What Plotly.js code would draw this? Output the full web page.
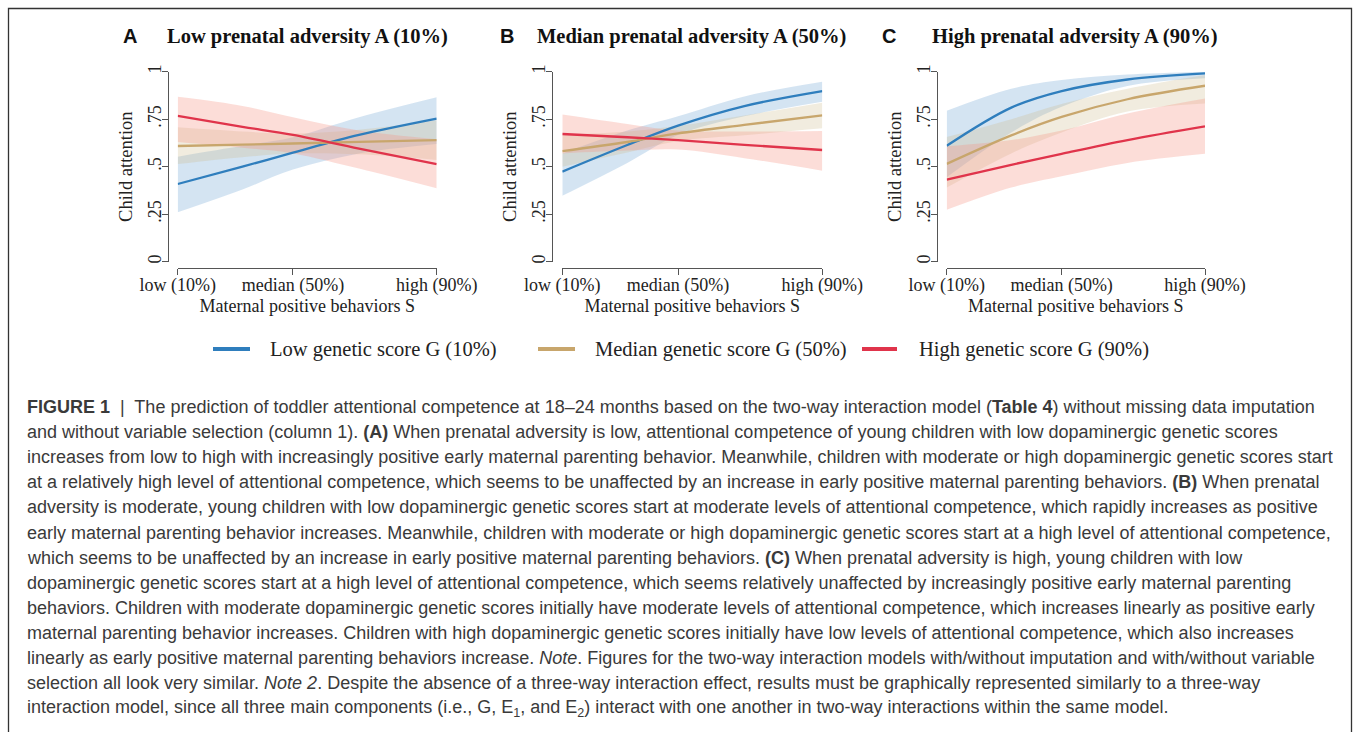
<!DOCTYPE html>
<html>
<head>
<meta charset="utf-8">
<script src="https://cdn.plot.ly/plotly-3.0.1.min.js"></script>
<style>html,body{margin:0;padding:0;background:#fff;}#chart{width:1354px;height:732px;}</style>
</head>
<body>
<div id="chart"></div>
<script>
// Sample positions along maternal positive behaviors S (0 = low 10%, 1 = high 90%)
const sPoints = [0, 0.25, 0.445, 0.7, 1];
const xTickVals = [0, 0.445, 1];
const xTickText = ['low (10%)', 'median (50%)', 'high (90%)'];
const yTickVals = [0, 0.25, 0.5, 0.75, 1];
const yTickText = ['0', '.25', '.5', '.75', '1'];

const seriesNames = ['Low genetic score G (10%)', 'Median genetic score G (50%)', 'High genetic score G (90%)'];
const panelLetters = ['A', 'B', 'C'];
const panelTitles = ['Low prenatal adversity A (10%)', 'Median prenatal adversity A (50%)', 'High prenatal adversity A (90%)'];

// Panel A: low prenatal adversity
const lowGA = [0.409, 0.500, 0.574, 0.667, 0.753];
const lowGA_lo = [0.260, 0.380, 0.485, 0.570, 0.620];
const lowGA_hi = [0.553, 0.610, 0.655, 0.760, 0.865];
const medGA = [0.609, 0.616, 0.622, 0.631, 0.640];
const medGA_lo = [0.514, 0.550, 0.570, 0.565, 0.535];
const medGA_hi = [0.707, 0.685, 0.675, 0.695, 0.745];
const highGA = [0.767, 0.710, 0.667, 0.595, 0.514];
const highGA_lo = [0.630, 0.600, 0.570, 0.490, 0.386];
const highGA_hi = [0.868, 0.820, 0.760, 0.690, 0.645];

// Panel B: median prenatal adversity
const lowGB = [0.474, 0.614, 0.716, 0.819, 0.898];
const lowGB_lo = [0.347, 0.520, 0.667, 0.765, 0.842];
const lowGB_hi = [0.570, 0.690, 0.765, 0.870, 0.947];
const medGB = [0.582, 0.630, 0.675, 0.720, 0.770];
const medGB_lo = [0.500, 0.575, 0.635, 0.665, 0.702];
const medGB_hi = [0.667, 0.685, 0.715, 0.770, 0.837];
const highGB = [0.672, 0.655, 0.640, 0.615, 0.588];
const highGB_lo = [0.570, 0.585, 0.590, 0.545, 0.479];
const highGB_hi = [0.775, 0.725, 0.690, 0.685, 0.688];

// Panel C: high prenatal adversity
const lowGC = [0.610, 0.811, 0.898, 0.959, 0.991];
const lowGC_lo = [0.444, 0.680, 0.815, 0.925, 0.965];
const lowGC_hi = [0.794, 0.910, 0.956, 0.985, 1.000];
const medGC = [0.515, 0.665, 0.762, 0.855, 0.926];
const medGC_lo = [0.390, 0.570, 0.680, 0.790, 0.832];
const medGC_hi = [0.656, 0.750, 0.830, 0.910, 0.982];
const highGC = [0.432, 0.510, 0.568, 0.640, 0.712];
const highGC_lo = [0.273, 0.390, 0.450, 0.520, 0.568];
const highGC_hi = [0.607, 0.640, 0.690, 0.780, 0.859];

const captionLines = [
  '<b>FIGURE 1</b>  |  The prediction of toddler attentional competence at 18–24 months based on the two-way interaction model (<b>Table 4</b>) without missing data imputation',
  'and without variable selection (column 1). <b>(A)</b> When prenatal adversity is low, attentional competence of young children with low dopaminergic genetic scores',
  'increases from low to high with increasingly positive early maternal parenting behavior. Meanwhile, children with moderate or high dopaminergic genetic scores start',
  'at a relatively high level of attentional competence, which seems to be unaffected by an increase in early positive maternal parenting behaviors. <b>(B)</b> When prenatal',
  'adversity is moderate, young children with low dopaminergic genetic scores start at moderate levels of attentional competence, which rapidly increases as positive',
  'early maternal parenting behavior increases. Meanwhile, children with moderate or high dopaminergic genetic scores start at a high level of attentional competence,',
  'which seems to be unaffected by an increase in early positive maternal parenting behaviors. <b>(C)</b> When prenatal adversity is high, young children with low',
  'dopaminergic genetic scores start at a high level of attentional competence, which seems relatively unaffected by increasingly positive early maternal parenting',
  'behaviors. Children with moderate dopaminergic genetic scores initially have moderate levels of attentional competence, which increases linearly as positive early',
  'maternal parenting behavior increases. Children with high dopaminergic genetic scores initially have low levels of attentional competence, which also increases',
  'linearly as early positive maternal parenting behaviors increase. <i>Note</i>. Figures for the two-way interaction models with/without imputation and with/without variable',
  'selection all look very similar. <i>Note 2</i>. Despite the absence of a three-way interaction effect, results must be graphically represented similarly to a three-way',
  'interaction model, since all three main components (i.e., G, E<sub>1</sub>, and E<sub>2</sub>) interact with one another in two-way interactions within the same model.'
];

const lineColors = ['#2f7ebd', '#c8a66c', '#e0344b'];
const bandColors = ['rgba(120,170,215,0.32)', 'rgba(205,185,140,0.28)', 'rgba(245,150,135,0.32)'];

const panels = [
  [[lowGA, lowGA_lo, lowGA_hi], [medGA, medGA_lo, medGA_hi], [highGA, highGA_lo, highGA_hi]],
  [[lowGB, lowGB_lo, lowGB_hi], [medGB, medGB_lo, medGB_hi], [highGB, highGB_lo, highGB_hi]],
  [[lowGC, lowGC_lo, lowGC_hi], [medGC, medGC_lo, medGC_hi], [highGC, highGC_lo, highGC_hi]]
];

const W = 1354, H = 732;
const px = v => v / W;
const py = v => (H - v) / H;

const xDomains = [[177.7, 436.7], [562.3, 822.3], [946.7, 1205]];
const yAxisX = [168.3, 551.7, 937.3];
const yDom = [py(261.7), py(71.7)];
const xAxisY = py(268.3);

const traces = [];
panels.forEach((series, p) => {
  const xa = p === 0 ? 'x' : 'x' + (p + 1);
  const ya = p === 0 ? 'y' : 'y' + (p + 1);
  series.forEach((s, i) => {
    traces.push({x: sPoints, y: s[1], xaxis: xa, yaxis: ya, type: 'scatter', mode: 'lines',
      line: {width: 0, shape: 'spline', color: bandColors[i]}, showlegend: false, hoverinfo: 'skip'});
    traces.push({x: sPoints, y: s[2], xaxis: xa, yaxis: ya, type: 'scatter', mode: 'lines',
      line: {width: 0, shape: 'spline', color: bandColors[i]}, fill: 'tonexty', fillcolor: bandColors[i],
      showlegend: false, hoverinfo: 'skip'});
  });
  series.forEach((s, i) => {
    traces.push({x: sPoints, y: s[0], xaxis: xa, yaxis: ya, type: 'scatter', mode: 'lines',
      name: seriesNames[i], line: {width: 2.3, shape: 'spline', color: lineColors[i]}, showlegend: false});
  });
});

const serif = 'Liberation Serif, Times New Roman, serif';
const layout = {
  width: W, height: H,
  margin: {l: 0, r: 0, t: 0, b: 0},
  paper_bgcolor: '#ffffff', plot_bgcolor: 'rgba(0,0,0,0)',
  showlegend: false,
  annotations: [],
  shapes: [{type: 'rect', xref: 'paper', yref: 'paper', x0: px(8.5), x1: px(1351.5), y0: -0.05, y1: py(8.5),
    line: {color: '#333', width: 1.3}}]
};

const letterX = [129.5, 507, 889];
const titleX = [307.5, 691.5, 1075];
for (let p = 0; p < 3; p++) {
  const sfx = p === 0 ? '' : String(p + 1);
  layout['xaxis' + sfx] = {
    domain: [px(xDomains[p][0]), px(xDomains[p][1])], range: [0, 1], anchor: 'free', position: xAxisY,
    showline: true, linecolor: '#555', linewidth: 1, ticks: 'outside', ticklen: 6, tickcolor: '#555',
    ticklabelstandoff: -6,
    tickvals: xTickVals, ticktext: xTickText, tickfont: {family: serif, size: 18, color: '#222'},
    title: {text: 'Maternal positive behaviors S', font: {family: serif, size: 18, color: '#222'}, standoff: 2},
    showgrid: false, zeroline: false, fixedrange: true
  };
  layout['yaxis' + sfx] = {
    domain: yDom, range: [0, 1], anchor: 'free', position: px(yAxisX[p]),
    showline: true, linecolor: '#555', linewidth: 1, ticks: 'outside', ticklen: 6, tickcolor: '#555',
    ticklabelstandoff: -6,
    tickvals: yTickVals, ticktext: yTickText, tickangle: -90, tickfont: {family: serif, size: 18, color: '#222'},
    title: {text: 'Child attention', font: {family: serif, size: 18.5, color: '#222'}, standoff: 6},
    showgrid: false, zeroline: false, fixedrange: true
  };
  layout.annotations.push({xref: 'paper', yref: 'paper', x: px(letterX[p]), y: py(36), xanchor: 'center', yanchor: 'middle',
    text: '<b>' + panelLetters[p] + '</b>', showarrow: false, font: {family: 'Liberation Sans, Arial, sans-serif', size: 20, color: '#111'}});
  layout.annotations.push({xref: 'paper', yref: 'paper', x: px(titleX[p]), y: py(36), xanchor: 'center', yanchor: 'middle',
    text: '<b>' + panelTitles[p] + '</b>', showarrow: false, font: {family: serif, size: 20.5, color: '#111'}});
}

// Legend (drawn as key lines + labels)
const legendLineX = [[213, 250], [538, 575], [862, 897]];
const legendTextX = [268, 593, 917];
seriesNames.forEach((n, i) => {
  layout.shapes.push({type: 'line', xref: 'paper', yref: 'paper', x0: px(legendLineX[i][0]), x1: px(legendLineX[i][1]),
    y0: py(349), y1: py(349), line: {color: lineColors[i], width: 4}});
  layout.annotations.push({xref: 'paper', yref: 'paper', x: px(legendTextX[i]), y: py(349), xanchor: 'left', yanchor: 'middle',
    text: n, showarrow: false, font: {family: serif, size: 20.5, color: '#222'}});
});

captionLines.forEach((t, i) => {
  layout.annotations.push({xref: 'paper', yref: 'paper', x: px(25), y: py(407 + i * 25.1), xanchor: 'left', yanchor: 'middle',
    align: 'left', text: t, showarrow: false, font: {family: 'Liberation Sans, Arial, sans-serif', size: 18, color: '#3a3a3a'}});
});

Plotly.newPlot('chart', traces, layout, {displayModeBar: false, staticPlot: true});
</script>
</body>
</html>
